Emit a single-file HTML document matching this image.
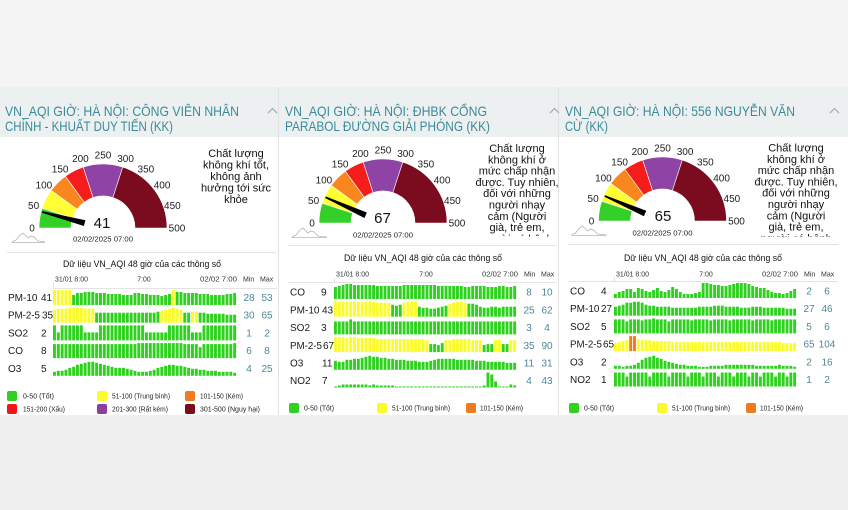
<!DOCTYPE html>
<html><head><meta charset="utf-8">
<style>
html,body{margin:0;padding:0;width:848px;height:510px;overflow:hidden;background:#f3f3f3}
svg{display:block;font-family:"Liberation Sans","DejaVu Sans",sans-serif}
.tt{font-size:14px;fill:#3a8b99}
.gl{font-size:10px;fill:#222;text-anchor:middle}
.ds{font-size:11px;fill:#111;text-anchor:middle}
.ct{font-size:9.5px;fill:#111;text-anchor:middle}
.ax{font-size:7px;fill:#333}
.rl{font-size:10px;fill:#1a1a1a}
.mm{font-size:10px;fill:#4b8797;text-anchor:middle}
.lg{font-size:7px;fill:#222}
</style></head><body>
<svg id="s" width="848" height="510" viewBox="0 0 848 510" xmlns="http://www.w3.org/2000/svg">
<defs>
<clipPath id="c2"><rect x="440" y="137" width="118" height="99.5"/></clipPath>
<clipPath id="c3"><rect x="720" y="137" width="128" height="99.5"/></clipPath>
</defs>
<rect width="848" height="510" fill="#f4f4f4"/>
<rect x="0" y="87" width="848" height="50" fill="#edf0f0"/>
<rect x="0" y="137" width="848" height="278" fill="#ffffff"/>
<rect x="0" y="415" width="848" height="95" fill="#f0f0f0"/>
<line x1="278.5" y1="87" x2="278.5" y2="415" stroke="#e2e2e2" stroke-width="1"/>
<line x1="558.5" y1="87" x2="558.5" y2="415" stroke="#e2e2e2" stroke-width="1"/>

<text class="tt" x="5" y="116" textLength="234" lengthAdjust="spacingAndGlyphs">VN_AQI GIỜ: HÀ NỘI: CÔNG VIÊN NHÂN</text>
<text class="tt" x="5" y="131" textLength="168" lengthAdjust="spacingAndGlyphs">CHÍNH - KHUẤT DUY TIẾN (KK)</text>
<text class="tt" x="285" y="116" textLength="202" lengthAdjust="spacingAndGlyphs">VN_AQI GIỜ: HÀ NỘI: ĐHBK CỔNG</text>
<text class="tt" x="285" y="131" textLength="205" lengthAdjust="spacingAndGlyphs">PARABOL ĐƯỜNG GIẢI PHÓNG (KK)</text>
<text class="tt" x="565" y="116" textLength="230" lengthAdjust="spacingAndGlyphs">VN_AQI GIỜ: HÀ NỘI: 556 NGUYỄN VĂN</text>
<text class="tt" x="565" y="131" textLength="43" lengthAdjust="spacingAndGlyphs">CỪ (KK)</text>
<g fill="none" stroke="#a9b0b2" stroke-width="1.3">
<polyline points="268,113 272.5,108.5 277,113"/>
<polyline points="550,113 554.5,108.5 559,113"/>
<polyline points="830,113 834.5,108.5 839,113"/>
</g>

<g transform="translate(103,228)">
<g stroke="#fff" stroke-width="0.6">
<path d="M-64,0A64,64 0 0 1 -60.87,-19.78L-30.43,-9.89A32,32 0 0 0 -32,0Z" fill="#35cf2a"/>
<path d="M-60.87,-19.78A64,64 0 0 1 -51.78,-37.62L-25.89,-18.81A32,32 0 0 0 -30.43,-9.89Z" fill="#ffff33"/>
<path d="M-51.78,-37.62A64,64 0 0 1 -37.62,-51.78L-18.81,-25.89A32,32 0 0 0 -25.89,-18.81Z" fill="#fa861e"/>
<path d="M-37.62,-51.78A64,64 0 0 1 -19.78,-60.87L-9.89,-30.43A32,32 0 0 0 -18.81,-25.89Z" fill="#f51c1c"/>
<path d="M-19.78,-60.87A64,64 0 0 1 19.78,-60.87L9.89,-30.43A32,32 0 0 0 -9.89,-30.43Z" fill="#8f44a5"/>
<path d="M19.78,-60.87A64,64 0 0 1 64,0L32,0A32,32 0 0 0 9.89,-30.43Z" fill="#7b0b1e"/>
</g>
<polygon points="-17.61,-7.74 -60.72,-16.82 -61.12,-15.28 -19.13,-1.94" fill="#000"/>
<text class="gl" x="-71" y="3.6">0</text><text class="gl" x="-69.4" y="-19">50</text><text class="gl" x="-59.1" y="-39.3">100</text><text class="gl" x="-42.9" y="-55.5">150</text><text class="gl" x="-22.6" y="-65.8">200</text><text class="gl" x="0" y="-69.4">250</text><text class="gl" x="22.6" y="-65.8">300</text><text class="gl" x="42.9" y="-55.5">350</text><text class="gl" x="59.1" y="-39.3">400</text><text class="gl" x="69.4" y="-19">450</text><text class="gl" x="74" y="3.6">500</text>
<text x="-1" y="0" font-size="15" fill="#111" text-anchor="middle">41</text>
<text x="0" y="13.5" font-size="7.5" fill="#222" text-anchor="middle" textLength="60" lengthAdjust="spacingAndGlyphs">02/02/2025 07:00</text>
<g transform="translate(-91,14)" fill="none" stroke="#b5b5b5" stroke-width="0.8"><line x1="0" y1="0.5" x2="33" y2="0.5"/><polyline points="0,0 4,-2 8,-7 11,-9 14,-6 16,-4 19,-6 22,-5 26,-1 33,0"/></g>
</g>

<g transform="translate(383,223)">
<g stroke="#fff" stroke-width="0.6">
<path d="M-64,0A64,64 0 0 1 -60.87,-19.78L-30.43,-9.89A32,32 0 0 0 -32,0Z" fill="#35cf2a"/>
<path d="M-60.87,-19.78A64,64 0 0 1 -51.78,-37.62L-25.89,-18.81A32,32 0 0 0 -30.43,-9.89Z" fill="#ffff33"/>
<path d="M-51.78,-37.62A64,64 0 0 1 -37.62,-51.78L-18.81,-25.89A32,32 0 0 0 -25.89,-18.81Z" fill="#fa861e"/>
<path d="M-37.62,-51.78A64,64 0 0 1 -19.78,-60.87L-9.89,-30.43A32,32 0 0 0 -18.81,-25.89Z" fill="#f51c1c"/>
<path d="M-19.78,-60.87A64,64 0 0 1 19.78,-60.87L9.89,-30.43A32,32 0 0 0 -9.89,-30.43Z" fill="#8f44a5"/>
<path d="M19.78,-60.87A64,64 0 0 1 64,0L32,0A32,32 0 0 0 9.89,-30.43Z" fill="#7b0b1e"/>
</g>
<polygon points="-16.12,-10.50 -57.17,-26.47 -57.83,-25.01 -18.57,-5.02" fill="#000"/>
<text class="gl" x="-71" y="3.6">0</text><text class="gl" x="-69.4" y="-19">50</text><text class="gl" x="-59.1" y="-39.3">100</text><text class="gl" x="-42.9" y="-55.5">150</text><text class="gl" x="-22.6" y="-65.8">200</text><text class="gl" x="0" y="-69.4">250</text><text class="gl" x="22.6" y="-65.8">300</text><text class="gl" x="42.9" y="-55.5">350</text><text class="gl" x="59.1" y="-39.3">400</text><text class="gl" x="69.4" y="-19">450</text><text class="gl" x="74" y="3.6">500</text>
<text x="-0.5" y="0" font-size="15" fill="#111" text-anchor="middle">67</text>
<text x="0" y="14.5" font-size="7.5" fill="#222" text-anchor="middle" textLength="60" lengthAdjust="spacingAndGlyphs">02/02/2025 07:00</text>
<g transform="translate(-91,14)" fill="none" stroke="#b5b5b5" stroke-width="0.8"><line x1="0" y1="0.5" x2="35" y2="0.5"/><polyline points="0,0 4,-2 8,-7 11,-9 14,-6 16,-4 19,-6 22,-5 26,-1 35,0"/></g>
</g>

<g transform="translate(662.5,221)">
<g stroke="#fff" stroke-width="0.6">
<path d="M-64,0A64,64 0 0 1 -60.87,-19.78L-30.43,-9.89A32,32 0 0 0 -32,0Z" fill="#35cf2a"/>
<path d="M-60.87,-19.78A64,64 0 0 1 -51.78,-37.62L-25.89,-18.81A32,32 0 0 0 -30.43,-9.89Z" fill="#ffff33"/>
<path d="M-51.78,-37.62A64,64 0 0 1 -37.62,-51.78L-18.81,-25.89A32,32 0 0 0 -25.89,-18.81Z" fill="#fa861e"/>
<path d="M-37.62,-51.78A64,64 0 0 1 -19.78,-60.87L-9.89,-30.43A32,32 0 0 0 -18.81,-25.89Z" fill="#f51c1c"/>
<path d="M-19.78,-60.87A64,64 0 0 1 19.78,-60.87L9.89,-30.43A32,32 0 0 0 -9.89,-30.43Z" fill="#8f44a5"/>
<path d="M19.78,-60.87A64,64 0 0 1 64,0L32,0A32,32 0 0 0 9.89,-30.43Z" fill="#7b0b1e"/>
</g>
<polygon points="-16.25,-10.29 -57.50,-25.75 -58.14,-24.29 -18.63,-4.79" fill="#000"/>
<text class="gl" x="-71" y="3.6">0</text><text class="gl" x="-69.4" y="-19">50</text><text class="gl" x="-59.1" y="-39.3">100</text><text class="gl" x="-42.9" y="-55.5">150</text><text class="gl" x="-22.6" y="-65.8">200</text><text class="gl" x="0" y="-69.4">250</text><text class="gl" x="22.6" y="-65.8">300</text><text class="gl" x="42.9" y="-55.5">350</text><text class="gl" x="59.1" y="-39.3">400</text><text class="gl" x="69.4" y="-19">450</text><text class="gl" x="74" y="3.6">500</text>
<text x="0.5" y="0" font-size="15" fill="#111" text-anchor="middle">65</text>
<text x="0" y="14.5" font-size="7.5" fill="#222" text-anchor="middle" textLength="60" lengthAdjust="spacingAndGlyphs">02/02/2025 07:00</text>
<g transform="translate(-91,14)" fill="none" stroke="#b5b5b5" stroke-width="0.8"><line x1="0" y1="0.5" x2="35" y2="0.5"/><polyline points="0,0 4,-2 8,-7 11,-9 14,-6 16,-4 19,-6 22,-5 26,-1 35,0"/></g>
</g>

<text class="ds" x="236" y="157">Chất lượng</text>
<text class="ds" x="236" y="168.5">không khí tốt,</text>
<text class="ds" x="236" y="180">không ảnh</text>
<text class="ds" x="236" y="191.5">hưởng tới sức</text>
<text class="ds" x="236" y="203">khỏe</text>

<g clip-path="url(#c2)">
<text class="ds" x="517" y="152">Chất lượng</text>
<text class="ds" x="517" y="163.3">không khí ở</text>
<text class="ds" x="517" y="174.6">mức chấp nhận</text>
<text class="ds" x="517" y="185.9">được. Tuy nhiên,</text>
<text class="ds" x="517" y="197.2">đối với những</text>
<text class="ds" x="517" y="208.5">người nhạy</text>
<text class="ds" x="517" y="219.8">cảm (Người</text>
<text class="ds" x="517" y="231.1">già, trẻ em,</text>
<text class="ds" x="517" y="242.4">người có bệnh</text>
</g>
<g clip-path="url(#c3)">
<text class="ds" x="796" y="151.5">Chất lượng</text>
<text class="ds" x="796" y="162.8">không khí ở</text>
<text class="ds" x="796" y="174.1">mức chấp nhận</text>
<text class="ds" x="796" y="185.4">được. Tuy nhiên,</text>
<text class="ds" x="796" y="196.7">đối với những</text>
<text class="ds" x="796" y="208">người nhạy</text>
<text class="ds" x="796" y="219.3">cảm (Người</text>
<text class="ds" x="796" y="230.6">già, trẻ em,</text>
<text class="ds" x="796" y="241.9">người có bệnh</text>
</g>

<g stroke="#e3e3e3" stroke-width="1">
<line x1="7" y1="252.5" x2="276" y2="252.5"/>
<line x1="288" y1="245.5" x2="557" y2="245.5"/>
<line x1="568" y1="244.5" x2="838" y2="244.5"/>
<line x1="53" y1="288.5" x2="277" y2="288.5"/>
<line x1="53.5" y1="283" x2="53.5" y2="288"/>
<line x1="288" y1="282.5" x2="557" y2="282.5"/>
<line x1="334.5" y1="278" x2="334.5" y2="282"/>
<line x1="568" y1="281.5" x2="838" y2="281.5"/>
<line x1="614.5" y1="277" x2="614.5" y2="281"/>
</g>

<text class="ct" x="142" y="267" textLength="158" lengthAdjust="spacingAndGlyphs">Dữ liệu VN_AQI 48 giờ của các thông số</text>
<text class="ax" x="55" y="281.5" textLength="33" lengthAdjust="spacingAndGlyphs">31/01 8:00</text>
<text class="ax" x="144" y="281.5" text-anchor="middle">7:00</text>
<text class="ax" x="200" y="281.5" textLength="37" lengthAdjust="spacingAndGlyphs">02/02 7:00</text>
<text class="ax" x="243" y="281.5">Min</text>
<text class="ax" x="260" y="281.5">Max</text>
<text class="rl" x="8" y="301">PM-10</text><text class="rl" x="41" y="301">41</text><text class="mm" x="249" y="301">28</text><text class="mm" x="267" y="301">53</text>
<text class="rl" x="8" y="318.7" textLength="32" lengthAdjust="spacingAndGlyphs">PM-2-5</text><text class="rl" x="42" y="318.7">35</text><text class="mm" x="249" y="318.7">30</text><text class="mm" x="267" y="318.7">65</text>
<text class="rl" x="8" y="336.4">SO2</text><text class="rl" x="41" y="336.4">2</text><text class="mm" x="249" y="336.4">1</text><text class="mm" x="267" y="336.4">2</text>
<text class="rl" x="8" y="354.1">CO</text><text class="rl" x="41" y="354.1">8</text><text class="mm" x="249" y="354.1">6</text><text class="mm" x="267" y="354.1">8</text>
<text class="rl" x="8" y="371.8">O3</text><text class="rl" x="41" y="371.8">5</text><text class="mm" x="249" y="371.8">4</text><text class="mm" x="267" y="371.8">25</text>

<rect x="7" y="391" width="10" height="10" rx="2" fill="#2fd11f"/><text class="lg" x="23" y="398.5" textLength="31" lengthAdjust="spacingAndGlyphs">0-50 (Tốt)</text>
<rect x="97" y="391" width="10" height="10" rx="2" fill="#fbfb2c"/><text class="lg" x="112" y="398.5" textLength="58" lengthAdjust="spacingAndGlyphs">51-100 (Trung bình)</text>
<rect x="185" y="391" width="10" height="10" rx="2" fill="#f27a1e"/><text class="lg" x="200" y="398.5" textLength="43" lengthAdjust="spacingAndGlyphs">101-150 (Kém)</text>
<rect x="7" y="404" width="10" height="10" rx="2" fill="#f21515"/><text class="lg" x="23" y="411.5" textLength="42" lengthAdjust="spacingAndGlyphs">151-200 (Xấu)</text>
<rect x="97" y="404" width="10" height="10" rx="2" fill="#8c3fa0"/><text class="lg" x="112" y="411.5" textLength="56" lengthAdjust="spacingAndGlyphs">201-300 (Rất kém)</text>
<rect x="185" y="404" width="10" height="10" rx="2" fill="#7a0d1c"/><text class="lg" x="200" y="411.5" textLength="60" lengthAdjust="spacingAndGlyphs">301-500 (Nguy hại)</text>

<text class="ct" x="423" y="261" textLength="158" lengthAdjust="spacingAndGlyphs">Dữ liệu VN_AQI 48 giờ của các thông số</text>
<text class="ax" x="336" y="276.5" textLength="33" lengthAdjust="spacingAndGlyphs">31/01 8:00</text>
<text class="ax" x="426" y="276.5" text-anchor="middle">7:00</text>
<text class="ax" x="482" y="276.5" textLength="36" lengthAdjust="spacingAndGlyphs">02/02 7:00</text>
<text class="ax" x="524" y="276.5">Min</text>
<text class="ax" x="541" y="276.5">Max</text>
<text class="rl" x="290" y="295.7">CO</text><text class="rl" x="321" y="295.7">9</text><text class="mm" x="529" y="295.7">8</text><text class="mm" x="547" y="295.7">10</text>
<text class="rl" x="290" y="313.4">PM-10</text><text class="rl" x="322" y="313.4">43</text><text class="mm" x="529" y="313.4">25</text><text class="mm" x="547" y="313.4">62</text>
<text class="rl" x="290" y="331.1">SO2</text><text class="rl" x="321" y="331.1">3</text><text class="mm" x="529" y="331.1">3</text><text class="mm" x="547" y="331.1">4</text>
<text class="rl" x="290" y="348.8" textLength="32" lengthAdjust="spacingAndGlyphs">PM-2-5</text><text class="rl" x="323" y="348.8">67</text><text class="mm" x="529" y="348.8">35</text><text class="mm" x="547" y="348.8">90</text>
<text class="rl" x="290" y="366.5">O3</text><text class="rl" x="322" y="366.5">11</text><text class="mm" x="529" y="366.5">11</text><text class="mm" x="547" y="366.5">31</text>
<text class="rl" x="290" y="384.2">NO2</text><text class="rl" x="322" y="384.2">7</text><text class="mm" x="529" y="384.2">4</text><text class="mm" x="547" y="384.2">43</text>
<rect x="289" y="403" width="10" height="10" rx="2" fill="#2fd11f"/><text class="lg" x="304" y="410.5" textLength="30" lengthAdjust="spacingAndGlyphs">0-50 (Tốt)</text>
<rect x="377" y="403" width="10" height="10" rx="2" fill="#fbfb2c"/><text class="lg" x="392" y="410.5" textLength="58" lengthAdjust="spacingAndGlyphs">51-100 (Trung bình)</text>
<rect x="466" y="403" width="10" height="10" rx="2" fill="#f27a1e"/><text class="lg" x="480" y="410.5" textLength="43" lengthAdjust="spacingAndGlyphs">101-150 (Kém)</text>

<text class="ct" x="703" y="261" textLength="158" lengthAdjust="spacingAndGlyphs">Dữ liệu VN_AQI 48 giờ của các thông số</text>
<text class="ax" x="616" y="276.5" textLength="33" lengthAdjust="spacingAndGlyphs">31/01 8:00</text>
<text class="ax" x="706" y="276.5" text-anchor="middle">7:00</text>
<text class="ax" x="762" y="276.5" textLength="36" lengthAdjust="spacingAndGlyphs">02/02 7:00</text>
<text class="ax" x="804" y="276.5">Min</text>
<text class="ax" x="821" y="276.5">Max</text>
<text class="rl" x="570" y="294.5">CO</text><text class="rl" x="601" y="294.5">4</text><text class="mm" x="809" y="294.5">2</text><text class="mm" x="827" y="294.5">6</text>
<text class="rl" x="570" y="312.2">PM-10</text><text class="rl" x="601" y="312.2">27</text><text class="mm" x="809" y="312.2">27</text><text class="mm" x="827" y="312.2">46</text>
<text class="rl" x="570" y="329.9">SO2</text><text class="rl" x="601" y="329.9">5</text><text class="mm" x="809" y="329.9">5</text><text class="mm" x="827" y="329.9">6</text>
<text class="rl" x="570" y="347.6" textLength="32" lengthAdjust="spacingAndGlyphs">PM-2-5</text><text class="rl" x="603" y="347.6">65</text><text class="mm" x="809" y="347.6">65</text><text class="mm" x="827" y="347.6">104</text>
<text class="rl" x="570" y="365.3">O3</text><text class="rl" x="601" y="365.3">2</text><text class="mm" x="809" y="365.3">2</text><text class="mm" x="827" y="365.3">16</text>
<text class="rl" x="570" y="383">NO2</text><text class="rl" x="601" y="383">1</text><text class="mm" x="809" y="383">1</text><text class="mm" x="827" y="383">2</text>
<rect x="569" y="403" width="10" height="10" rx="2" fill="#2fd11f"/><text class="lg" x="584" y="410.5" textLength="30" lengthAdjust="spacingAndGlyphs">0-50 (Tốt)</text>
<rect x="657" y="403" width="10" height="10" rx="2" fill="#fbfb2c"/><text class="lg" x="672" y="410.5" textLength="58" lengthAdjust="spacingAndGlyphs">51-100 (Trung bình)</text>
<rect x="746" y="403" width="10" height="10" rx="2" fill="#f27a1e"/><text class="lg" x="760" y="410.5" textLength="43" lengthAdjust="spacingAndGlyphs">101-150 (Kém)</text>

<g id="bars"></g>
</svg>
<script>
(function(){
var NS="http://www.w3.org/2000/svg";
var G=document.getElementById('bars');
var COL={g:'#2fd11f',y:'#fbfb2c',o:'#f27a1e'};
function cols(spec,def){var a=[];for(var i=0;i<48;i++)a.push(def||'g');
 (spec||[]).forEach(function(s){for(var i=s[0];i<=s[1];i++)a[i]=s[2];});return a;}
function fill(v){var a=[];for(var i=0;i<48;i++)a.push(v);return a;}
function row(x0,x1,bottom,h,c){var p=(x1-x0)/48;
 for(var i=0;i<48;i++){var r=document.createElementNS(NS,'rect');
  r.setAttribute('x',(x0+i*p).toFixed(2));r.setAttribute('y',(bottom-h[i]).toFixed(2));
  r.setAttribute('width',(p-0.9).toFixed(2));r.setAttribute('height',h[i]);
  r.setAttribute('fill',COL[c[i]]);G.appendChild(r);}}
var p1=[
 [[15,15,15,15,15,10,12,12,13,13,13,12,12,12,11,11,11,11,10,10,10,12,12,11,11,10,10,10,9,10,11,15,13,13,12,12,12,12,11,11,11,10,10,10,10,11,11,12], cols([[0,4,'y'],[31,31,'y']])],
 [[13,14,14,14,15,15,15,15,14,14,14,10,10,10,10,10,10,10,10,10,10,10,10,10,10,10,10,11,12,13,14,15,14,13,10,10,11,11,10,10,9,9,9,9,9,8,8,8], cols([[0,10,'y'],[28,33,'y'],[36,37,'y']])],
 [null, cols()],
 [[14,14,14,14,14,14,14,14,14,14,14,14,14,14,14,14,14,14,14,14,14,14,15,15,15,15,15,15,15,15,15,15,15,15,14,14,14,14,11,14,14,14,14,14,14,14,14,15], cols()],
 [[4,5,5,6,8,9,11,12,13,14,14,13,12,11,10,9,8,8,8,7,6,5,4,4,4,5,6,8,9,10,11,11,10,10,9,8,7,7,6,6,5,5,5,4,4,4,4,3], cols()]
];
var so2=fill(15);[1,8,9,10,11,24,25,26,27,28,29,36,37,38].forEach(function(i){so2[i]=8;});p1[2][0]=so2;
var b1=[305,322.7,340.4,358.1,375.8];
p1.forEach(function(r,i){row(53,237,b1[i],r[0],r[1]);});
var so2b=fill(13);so2b[4]=15;
var p2=[
 [[12,13,14,15,15,14,14,14,14,14,14,13,13,13,13,13,13,13,14,14,14,14,14,14,14,14,14,13,13,13,13,13,13,13,12,12,13,13,13,13,12,12,12,13,13,12,12,13], cols()],
 [[15,15,15,15,15,15,15,15,15,15,15,14,14,14,14,12,11,12,14,15,15,15,10,9,9,8,8,9,10,11,13,14,15,15,14,13,13,12,10,9,9,10,10,9,10,10,10,10], cols([[0,14,'y'],[18,21,'y'],[30,34,'y']])],
 [so2b, cols()],
 [[15,15,15,14,15,15,14,14,14,14,14,13,13,13,13,13,13,13,13,13,13,13,13,13,12,8,8,7,9,12,12,13,13,13,13,13,12,12,12,7,8,8,12,12,8,8,12,12], cols([[25,28,'g'],[39,41,'g'],[44,45,'g']],'y')],
 [[9,8,8,10,10,11,11,12,13,14,13,13,12,12,11,11,10,10,10,9,9,9,8,8,8,9,10,11,11,11,11,11,10,10,10,10,10,9,9,9,8,8,8,8,8,7,7,7], cols()],
 [[1,2,3,3,3,3,3,3,3,2,3,2,2,2,2,2,1,1,1,1,1,1,1,1,1,1,1,1,1,1,1,1,1,1,1,1,1,1,1,2,15,13,6,1,1,1,3,2], cols()]
];
var b2=[299,316.7,334.4,352.1,369.8,387.5];
p2.forEach(function(r,i){row(334,517,b2[i],r[0],r[1]);});
var no2=fill(14);[3,9,14,19,23,27,31,35,38,42,45].forEach(function(i){no2[i]=10;});
var p3=[
 [[4,6,7,9,9,6,10,9,7,6,8,10,7,6,8,11,9,6,4,4,4,5,6,15,15,14,13,13,12,12,13,14,15,15,15,14,12,11,10,10,8,6,5,5,4,5,7,9], cols()],
 [[9,10,11,13,13,14,14,13,11,10,10,9,9,9,9,8,8,8,8,8,8,8,9,9,9,9,10,10,10,9,9,9,9,8,8,8,9,9,9,8,8,8,8,8,8,7,7,7], cols()],
 [[14,14,14,12,14,14,14,13,14,14,15,14,14,14,12,14,14,14,14,14,13,14,14,14,14,13,14,14,14,14,13,14,14,14,14,14,13,14,14,14,14,13,14,14,14,14,14,14], cols()],
 [[8,9,10,11,15,15,12,11,11,11,10,10,10,10,10,9,9,9,9,9,9,9,9,9,9,9,9,9,9,9,9,9,9,9,9,9,9,9,9,9,9,9,9,9,8,8,8,8], cols([[4,5,'o']],'y')],
 [[3,3,2,3,3,4,6,9,11,12,13,11,10,8,7,6,5,4,4,3,3,3,2,2,2,3,3,3,3,4,4,4,4,4,4,4,4,3,3,3,3,3,3,4,3,3,3,2], cols()],
 [no2, cols()]
];
var b3=[298,315.7,333.4,351.1,368.8,386.5];
p3.forEach(function(r,i){row(614,797,b3[i],r[0],r[1]);});
})();
</script>
</body></html>
